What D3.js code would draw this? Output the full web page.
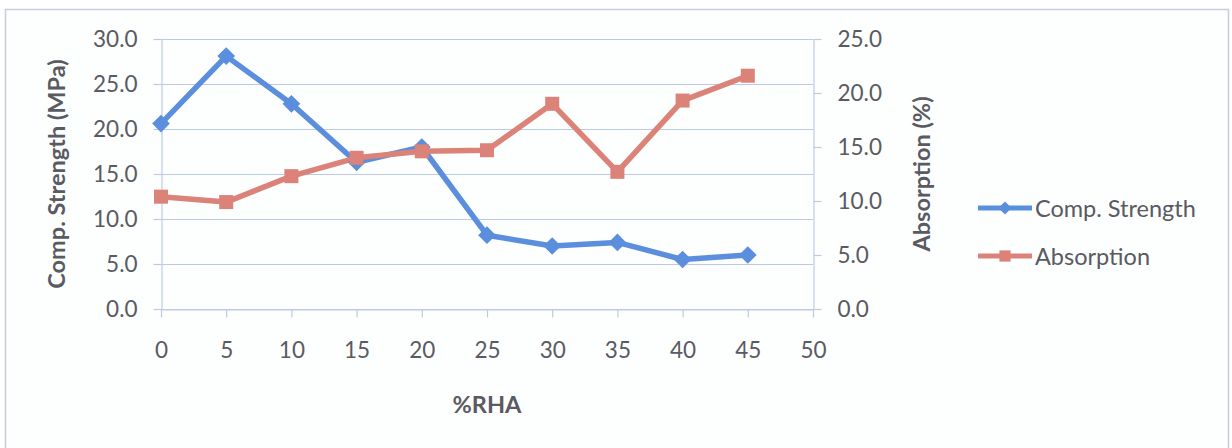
<!DOCTYPE html>
<html>
<head>
<meta charset="utf-8">
<script src="https://cdn.jsdelivr.net/npm/d3@7"></script>
<style>
  html, body { margin: 0; padding: 0; background: #ffffff; }
  svg { display: block; }
  text { font-family: Lato, "Open Sans", sans-serif; fill: #5a5a62; }
</style>
</head>
<body>
<svg id="chart" width="1232" height="448"></svg>
<script>
// %RHA replacement levels
const rhaLevels = [0, 5, 10, 15, 20, 25, 30, 35, 40, 45];
// Compressive strength (MPa), left axis
const compStrength = [20.6, 28.1, 22.8, 16.3, 18.0, 8.2, 7.0, 7.4, 5.5, 6.0];
// Water absorption (%), right axis
const absorption = [10.4, 9.9, 12.3, 14.0, 14.6, 14.7, 19.0, 12.7, 19.3, 21.6];

const xTicks = [0, 5, 10, 15, 20, 25, 30, 35, 40, 45, 50];
const leftTicks = [0, 5, 10, 15, 20, 25, 30];
const rightTicks = [0, 5, 10, 15, 20, 25];

const seriesNames = ["Comp. Strength", "Absorption"];
const seriesColors = ["#5b8edc", "#db8279"];

const svg = d3.select("#chart");
const gridColor = "#bccbe2";
const tickFont = 22.5;
const titleFont = 23.5;

// outer chart frame
svg.append("rect")
  .attr("x", 5.5).attr("y", 9.5)
  .attr("width", 1223).attr("height", 460)
  .attr("fill", "#fdfefe")
  .attr("stroke", "#c4cedb").attr("stroke-width", 1.5);

const plot = { left: 161, right: 813, top: 39, bottom: 309 };

const x = d3.scaleLinear().domain([0, 50]).range([plot.left, plot.right]);
const yL = d3.scaleLinear().domain([0, 30]).range([plot.bottom, plot.top]);
const yR = d3.scaleLinear().domain([0, 25]).range([plot.bottom, plot.top]);

// horizontal gridlines from the left axis
svg.append("g")
  .selectAll("line")
  .data(leftTicks)
  .join("line")
  .attr("x1", plot.left).attr("x2", plot.right)
  .attr("y1", d => Math.round(yL(d)) + 0.5).attr("y2", d => Math.round(yL(d)) + 0.5)
  .attr("stroke", gridColor).attr("stroke-width", 1.2);

function styleAxis(g) {
  g.select(".domain").attr("stroke", gridColor).attr("stroke-width", 1.2);
  g.selectAll(".tick line").attr("stroke", gridColor).attr("stroke-width", 1.2);
  g.selectAll(".tick text").attr("font-size", tickFont).attr("fill", "#5a5a62")
    .style("font-family", "Lato, sans-serif");
}

// left axis
svg.append("g")
  .attr("transform", `translate(${plot.left + 0.5},0)`)
  .call(d3.axisLeft(yL).tickValues(leftTicks).tickFormat(d3.format(".1f"))
    .tickSize(8).tickPadding(16).tickSizeOuter(0))
  .call(styleAxis);

// right axis
svg.append("g")
  .attr("transform", `translate(${plot.right + 0.5},0)`)
  .call(d3.axisRight(yR).tickValues(rightTicks).tickFormat(d3.format(".1f"))
    .tickSize(8).tickPadding(16).tickSizeOuter(0))
  .call(styleAxis);

// bottom axis
svg.append("g")
  .attr("transform", `translate(0,${plot.bottom + 0.5})`)
  .call(d3.axisBottom(x).tickValues(xTicks).tickFormat(d3.format("d"))
    .tickSize(8).tickPadding(25).tickSizeOuter(0))
  .call(styleAxis);

// axis titles
svg.append("text")
  .attr("transform", `translate(65,${(plot.top + plot.bottom) / 2}) rotate(-90)`)
  .attr("text-anchor", "middle")
  .attr("font-size", titleFont).attr("font-weight", "bold")
  .text("Comp. Strength (MPa)");

svg.append("text")
  .attr("transform", `translate(930,${(plot.top + plot.bottom) / 2}) rotate(-90)`)
  .attr("text-anchor", "middle")
  .attr("font-size", titleFont).attr("font-weight", "bold")
  .text("Absorption (%)");

svg.append("text")
  .attr("x", (plot.left + plot.right) / 2).attr("y", 413)
  .attr("text-anchor", "middle")
  .attr("font-size", titleFont).attr("font-weight", "bold")
  .text("%RHA");

// series lines
const compData = rhaLevels.map((r, i) => ({ x: r, y: compStrength[i] }));
const absData = rhaLevels.map((r, i) => ({ x: r, y: absorption[i] }));

const diamond = d3.symbol().type(d3.symbolDiamond2).size(200);
const square = d3.symbol().type(d3.symbolSquare2).size(250);

svg.append("path")
  .datum(compData)
  .attr("fill", "none")
  .attr("stroke", seriesColors[0]).attr("stroke-width", 5.5)
  .attr("stroke-linejoin", "round")
  .attr("d", d3.line().x(d => x(d.x)).y(d => yL(d.y)));

svg.append("path")
  .datum(absData)
  .attr("fill", "none")
  .attr("stroke", seriesColors[1]).attr("stroke-width", 5.5)
  .attr("stroke-linejoin", "round")
  .attr("d", d3.line().x(d => x(d.x)).y(d => yR(d.y)));

svg.append("g").selectAll("path")
  .data(compData)
  .join("path")
  .attr("transform", d => `translate(${x(d.x)},${yL(d.y)})`)
  .attr("d", diamond)
  .attr("fill", seriesColors[0]);

svg.append("g").selectAll("path")
  .data(absData)
  .join("path")
  .attr("transform", d => `translate(${x(d.x)},${yR(d.y)})`)
  .attr("d", square)
  .attr("fill", seriesColors[1]);

// legend
const legend = svg.append("g").attr("transform", "translate(978,208)");
const legendSymbols = [d3.symbol().type(d3.symbolDiamond2).size(110), d3.symbol().type(d3.symbolSquare2).size(160)];
seriesNames.forEach((name, i) => {
  const g = legend.append("g").attr("transform", `translate(0,${i * 48})`);
  g.append("line")
    .attr("x1", 0).attr("x2", 54).attr("y1", 0).attr("y2", 0)
    .attr("stroke", seriesColors[i]).attr("stroke-width", 5);
  g.append("path")
    .attr("transform", "translate(27,0)")
    .attr("d", legendSymbols[i])
    .attr("fill", seriesColors[i]);
  g.append("text")
    .attr("x", 57).attr("y", 8.5)
    .attr("font-size", titleFont)
    .text(name);
});
</script>
</body>
</html>
